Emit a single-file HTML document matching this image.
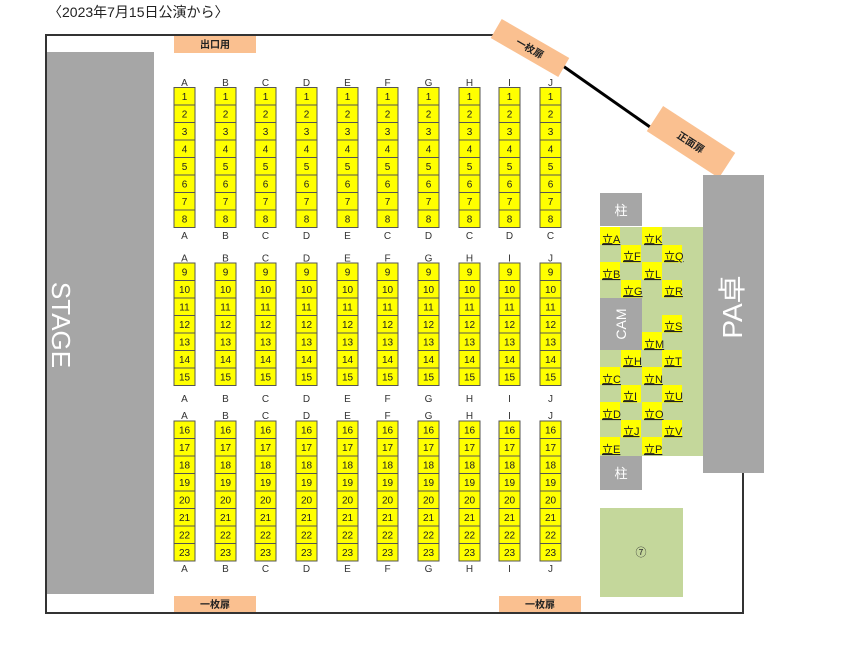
<!DOCTYPE html>
<html><head><meta charset="utf-8"><style>
html,body{margin:0;padding:0;background:#fff;}
svg{display:block;font-family:"Liberation Sans","Noto Sans CJK JP",sans-serif;}
rect.s{fill:#ffff00;stroke:#555;stroke-width:1;width:21px;height:17.5px;}
.c text{font-size:10px;text-anchor:middle;fill:#222;}
.c text.l{fill:#333;}
.st rect{fill:#ffff00;width:20px;height:17.5px;}
.st text{font-size:11px;fill:#222;text-decoration:underline;}
.w{fill:#fff;text-anchor:middle;}
.dr text{font-size:10px;font-weight:bold;text-anchor:middle;fill:#222;}
</style></head><body>
<svg width="844" height="650" viewBox="0 0 844 650" xmlns="http://www.w3.org/2000/svg">
<defs>
<g id="none"></g>
</defs>
<text x="48" y="17" font-size="14" fill="#222">〈2023年7月15日公演から〉</text>
<!-- walls -->
<polyline points="495,35 46,35 46,613 743,613 743,470" fill="none" stroke="#333" stroke-width="2"/>
<line x1="563" y1="66" x2="650" y2="127" stroke="#000" stroke-width="3"/>
<!-- stage -->
<rect x="47" y="52" width="107" height="542" fill="#a6a6a6"/>
<text transform="translate(52,325) rotate(90)" class="w" font-size="26">STAGE</text>
<!-- doors -->
<g class="dr">
<rect x="174" y="36" width="82" height="17" fill="#fac090"/><text x="215" y="48">出口用</text>
<rect x="174" y="596" width="82" height="16" fill="#fac090"/><text x="215" y="608">一枚扉</text>
<rect x="499" y="596" width="82" height="16" fill="#fac090"/><text x="540" y="608">一枚扉</text>
<g transform="translate(530,48) rotate(30)"><rect x="-39" y="-11" width="78" height="22" fill="#fac090"/><text x="0" y="4">一枚扉</text></g>
<g transform="translate(691,142) rotate(33)"><rect x="-43" y="-15" width="86" height="30" fill="#fac090"/><text x="0" y="4">正面扉</text></g>
</g>
<!-- PA -->
<rect x="703" y="175" width="61" height="298" fill="#a6a6a6"/>
<text transform="translate(742,307) rotate(-90)" class="w" font-size="28">PA卓</text>
<!-- standing area -->
<rect x="600" y="227" width="103" height="229" fill="#c4d79b"/>
<rect x="600" y="193" width="42" height="33" fill="#a6a6a6"/><text x="621" y="215" class="w" font-size="13">柱</text>
<rect x="600" y="456" width="42" height="34" fill="#a6a6a6"/><text x="621" y="478" class="w" font-size="13">柱</text>
<rect x="600" y="298" width="42" height="52" fill="#a6a6a6"/>
<text transform="translate(626,324) rotate(-90)" class="w" font-size="14">CAM</text>
<rect x="600" y="508" width="83" height="89" fill="#c4d79b"/>
<text x="641" y="556" font-size="11" text-anchor="middle" fill="#333">⑦</text>
<g class="st">
<rect x="600" y="227"/><text x="602" y="243">立A</text>
<rect x="642" y="227"/><text x="644" y="243">立K</text>
<rect x="621" y="245"/><text x="623" y="260">立F</text>
<rect x="662" y="245"/><text x="664" y="260">立Q</text>
<rect x="600" y="262"/><text x="602" y="278">立B</text>
<rect x="642" y="262"/><text x="644" y="278">立L</text>
<rect x="621" y="280"/><text x="623" y="295">立G</text>
<rect x="662" y="280"/><text x="664" y="295">立R</text>
<rect x="662" y="315"/><text x="664" y="330">立S</text>
<rect x="642" y="332"/><text x="644" y="348">立M</text>
<rect x="621" y="350"/><text x="623" y="365">立H</text>
<rect x="662" y="350"/><text x="664" y="365">立T</text>
<rect x="600" y="367"/><text x="602" y="383">立C</text>
<rect x="642" y="367"/><text x="644" y="383">立N</text>
<rect x="621" y="385"/><text x="623" y="400">立I</text>
<rect x="662" y="385"/><text x="664" y="400">立U</text>
<rect x="600" y="402"/><text x="602" y="418">立D</text>
<rect x="642" y="402"/><text x="644" y="418">立O</text>
<rect x="621" y="420"/><text x="623" y="435">立J</text>
<rect x="662" y="420"/><text x="664" y="435">立V</text>
<rect x="600" y="437"/><text x="602" y="453">立E</text>
<rect x="642" y="437"/><text x="644" y="453">立P</text>
</g>
<!-- seat columns -->
<g class="c" transform="translate(174,0)">
<text class="l" x="10.5" y="86">A</text><text class="l" x="10.5" y="239">A</text><text class="l" x="10.5" y="261.5">A</text><text class="l" x="10.5" y="402">A</text><text class="l" x="10.5" y="419">A</text><text class="l" x="10.5" y="572">A</text>
<rect class="s" y="87.5"/><rect class="s" y="105"/><rect class="s" y="122.5"/><rect class="s" y="140"/><rect class="s" y="157.5"/><rect class="s" y="175"/><rect class="s" y="192.5"/><rect class="s" y="210"/>
<rect class="s" y="263"/><rect class="s" y="280.5"/><rect class="s" y="298"/><rect class="s" y="315.5"/><rect class="s" y="333"/><rect class="s" y="350.5"/><rect class="s" y="368"/>
<rect class="s" y="421"/><rect class="s" y="438.5"/><rect class="s" y="456"/><rect class="s" y="473.5"/><rect class="s" y="491"/><rect class="s" y="508.5"/><rect class="s" y="526"/><rect class="s" y="543.5"/>
<text x="10.5" y="100">1</text><text x="10.5" y="117.5">2</text><text x="10.5" y="135">3</text><text x="10.5" y="152.5">4</text><text x="10.5" y="170">5</text><text x="10.5" y="187.5">6</text><text x="10.5" y="205">7</text><text x="10.5" y="222.5">8</text>
<text x="10.5" y="275.5">9</text><text x="10.5" y="293">10</text><text x="10.5" y="310.5">11</text><text x="10.5" y="328">12</text><text x="10.5" y="345.5">13</text><text x="10.5" y="363">14</text><text x="10.5" y="380.5">15</text>
<text x="10.5" y="433.5">16</text><text x="10.5" y="451">17</text><text x="10.5" y="468.5">18</text><text x="10.5" y="486">19</text><text x="10.5" y="503.5">20</text><text x="10.5" y="521">21</text><text x="10.5" y="538.5">22</text><text x="10.5" y="556">23</text>
</g>
<g class="c" transform="translate(215,0)">
<text class="l" x="10.5" y="86">B</text><text class="l" x="10.5" y="239">B</text><text class="l" x="10.5" y="261.5">B</text><text class="l" x="10.5" y="402">B</text><text class="l" x="10.5" y="419">B</text><text class="l" x="10.5" y="572">B</text>
<rect class="s" y="87.5"/><rect class="s" y="105"/><rect class="s" y="122.5"/><rect class="s" y="140"/><rect class="s" y="157.5"/><rect class="s" y="175"/><rect class="s" y="192.5"/><rect class="s" y="210"/>
<rect class="s" y="263"/><rect class="s" y="280.5"/><rect class="s" y="298"/><rect class="s" y="315.5"/><rect class="s" y="333"/><rect class="s" y="350.5"/><rect class="s" y="368"/>
<rect class="s" y="421"/><rect class="s" y="438.5"/><rect class="s" y="456"/><rect class="s" y="473.5"/><rect class="s" y="491"/><rect class="s" y="508.5"/><rect class="s" y="526"/><rect class="s" y="543.5"/>
<text x="10.5" y="100">1</text><text x="10.5" y="117.5">2</text><text x="10.5" y="135">3</text><text x="10.5" y="152.5">4</text><text x="10.5" y="170">5</text><text x="10.5" y="187.5">6</text><text x="10.5" y="205">7</text><text x="10.5" y="222.5">8</text>
<text x="10.5" y="275.5">9</text><text x="10.5" y="293">10</text><text x="10.5" y="310.5">11</text><text x="10.5" y="328">12</text><text x="10.5" y="345.5">13</text><text x="10.5" y="363">14</text><text x="10.5" y="380.5">15</text>
<text x="10.5" y="433.5">16</text><text x="10.5" y="451">17</text><text x="10.5" y="468.5">18</text><text x="10.5" y="486">19</text><text x="10.5" y="503.5">20</text><text x="10.5" y="521">21</text><text x="10.5" y="538.5">22</text><text x="10.5" y="556">23</text>
</g>
<g class="c" transform="translate(255,0)">
<text class="l" x="10.5" y="86">C</text><text class="l" x="10.5" y="239">C</text><text class="l" x="10.5" y="261.5">C</text><text class="l" x="10.5" y="402">C</text><text class="l" x="10.5" y="419">C</text><text class="l" x="10.5" y="572">C</text>
<rect class="s" y="87.5"/><rect class="s" y="105"/><rect class="s" y="122.5"/><rect class="s" y="140"/><rect class="s" y="157.5"/><rect class="s" y="175"/><rect class="s" y="192.5"/><rect class="s" y="210"/>
<rect class="s" y="263"/><rect class="s" y="280.5"/><rect class="s" y="298"/><rect class="s" y="315.5"/><rect class="s" y="333"/><rect class="s" y="350.5"/><rect class="s" y="368"/>
<rect class="s" y="421"/><rect class="s" y="438.5"/><rect class="s" y="456"/><rect class="s" y="473.5"/><rect class="s" y="491"/><rect class="s" y="508.5"/><rect class="s" y="526"/><rect class="s" y="543.5"/>
<text x="10.5" y="100">1</text><text x="10.5" y="117.5">2</text><text x="10.5" y="135">3</text><text x="10.5" y="152.5">4</text><text x="10.5" y="170">5</text><text x="10.5" y="187.5">6</text><text x="10.5" y="205">7</text><text x="10.5" y="222.5">8</text>
<text x="10.5" y="275.5">9</text><text x="10.5" y="293">10</text><text x="10.5" y="310.5">11</text><text x="10.5" y="328">12</text><text x="10.5" y="345.5">13</text><text x="10.5" y="363">14</text><text x="10.5" y="380.5">15</text>
<text x="10.5" y="433.5">16</text><text x="10.5" y="451">17</text><text x="10.5" y="468.5">18</text><text x="10.5" y="486">19</text><text x="10.5" y="503.5">20</text><text x="10.5" y="521">21</text><text x="10.5" y="538.5">22</text><text x="10.5" y="556">23</text>
</g>
<g class="c" transform="translate(296,0)">
<text class="l" x="10.5" y="86">D</text><text class="l" x="10.5" y="239">D</text><text class="l" x="10.5" y="261.5">D</text><text class="l" x="10.5" y="402">D</text><text class="l" x="10.5" y="419">D</text><text class="l" x="10.5" y="572">D</text>
<rect class="s" y="87.5"/><rect class="s" y="105"/><rect class="s" y="122.5"/><rect class="s" y="140"/><rect class="s" y="157.5"/><rect class="s" y="175"/><rect class="s" y="192.5"/><rect class="s" y="210"/>
<rect class="s" y="263"/><rect class="s" y="280.5"/><rect class="s" y="298"/><rect class="s" y="315.5"/><rect class="s" y="333"/><rect class="s" y="350.5"/><rect class="s" y="368"/>
<rect class="s" y="421"/><rect class="s" y="438.5"/><rect class="s" y="456"/><rect class="s" y="473.5"/><rect class="s" y="491"/><rect class="s" y="508.5"/><rect class="s" y="526"/><rect class="s" y="543.5"/>
<text x="10.5" y="100">1</text><text x="10.5" y="117.5">2</text><text x="10.5" y="135">3</text><text x="10.5" y="152.5">4</text><text x="10.5" y="170">5</text><text x="10.5" y="187.5">6</text><text x="10.5" y="205">7</text><text x="10.5" y="222.5">8</text>
<text x="10.5" y="275.5">9</text><text x="10.5" y="293">10</text><text x="10.5" y="310.5">11</text><text x="10.5" y="328">12</text><text x="10.5" y="345.5">13</text><text x="10.5" y="363">14</text><text x="10.5" y="380.5">15</text>
<text x="10.5" y="433.5">16</text><text x="10.5" y="451">17</text><text x="10.5" y="468.5">18</text><text x="10.5" y="486">19</text><text x="10.5" y="503.5">20</text><text x="10.5" y="521">21</text><text x="10.5" y="538.5">22</text><text x="10.5" y="556">23</text>
</g>
<g class="c" transform="translate(337,0)">
<text class="l" x="10.5" y="86">E</text><text class="l" x="10.5" y="239">E</text><text class="l" x="10.5" y="261.5">E</text><text class="l" x="10.5" y="402">E</text><text class="l" x="10.5" y="419">E</text><text class="l" x="10.5" y="572">E</text>
<rect class="s" y="87.5"/><rect class="s" y="105"/><rect class="s" y="122.5"/><rect class="s" y="140"/><rect class="s" y="157.5"/><rect class="s" y="175"/><rect class="s" y="192.5"/><rect class="s" y="210"/>
<rect class="s" y="263"/><rect class="s" y="280.5"/><rect class="s" y="298"/><rect class="s" y="315.5"/><rect class="s" y="333"/><rect class="s" y="350.5"/><rect class="s" y="368"/>
<rect class="s" y="421"/><rect class="s" y="438.5"/><rect class="s" y="456"/><rect class="s" y="473.5"/><rect class="s" y="491"/><rect class="s" y="508.5"/><rect class="s" y="526"/><rect class="s" y="543.5"/>
<text x="10.5" y="100">1</text><text x="10.5" y="117.5">2</text><text x="10.5" y="135">3</text><text x="10.5" y="152.5">4</text><text x="10.5" y="170">5</text><text x="10.5" y="187.5">6</text><text x="10.5" y="205">7</text><text x="10.5" y="222.5">8</text>
<text x="10.5" y="275.5">9</text><text x="10.5" y="293">10</text><text x="10.5" y="310.5">11</text><text x="10.5" y="328">12</text><text x="10.5" y="345.5">13</text><text x="10.5" y="363">14</text><text x="10.5" y="380.5">15</text>
<text x="10.5" y="433.5">16</text><text x="10.5" y="451">17</text><text x="10.5" y="468.5">18</text><text x="10.5" y="486">19</text><text x="10.5" y="503.5">20</text><text x="10.5" y="521">21</text><text x="10.5" y="538.5">22</text><text x="10.5" y="556">23</text>
</g>
<g class="c" transform="translate(377,0)">
<text class="l" x="10.5" y="86">F</text><text class="l" x="10.5" y="239">C</text><text class="l" x="10.5" y="261.5">F</text><text class="l" x="10.5" y="402">F</text><text class="l" x="10.5" y="419">F</text><text class="l" x="10.5" y="572">F</text>
<rect class="s" y="87.5"/><rect class="s" y="105"/><rect class="s" y="122.5"/><rect class="s" y="140"/><rect class="s" y="157.5"/><rect class="s" y="175"/><rect class="s" y="192.5"/><rect class="s" y="210"/>
<rect class="s" y="263"/><rect class="s" y="280.5"/><rect class="s" y="298"/><rect class="s" y="315.5"/><rect class="s" y="333"/><rect class="s" y="350.5"/><rect class="s" y="368"/>
<rect class="s" y="421"/><rect class="s" y="438.5"/><rect class="s" y="456"/><rect class="s" y="473.5"/><rect class="s" y="491"/><rect class="s" y="508.5"/><rect class="s" y="526"/><rect class="s" y="543.5"/>
<text x="10.5" y="100">1</text><text x="10.5" y="117.5">2</text><text x="10.5" y="135">3</text><text x="10.5" y="152.5">4</text><text x="10.5" y="170">5</text><text x="10.5" y="187.5">6</text><text x="10.5" y="205">7</text><text x="10.5" y="222.5">8</text>
<text x="10.5" y="275.5">9</text><text x="10.5" y="293">10</text><text x="10.5" y="310.5">11</text><text x="10.5" y="328">12</text><text x="10.5" y="345.5">13</text><text x="10.5" y="363">14</text><text x="10.5" y="380.5">15</text>
<text x="10.5" y="433.5">16</text><text x="10.5" y="451">17</text><text x="10.5" y="468.5">18</text><text x="10.5" y="486">19</text><text x="10.5" y="503.5">20</text><text x="10.5" y="521">21</text><text x="10.5" y="538.5">22</text><text x="10.5" y="556">23</text>
</g>
<g class="c" transform="translate(418,0)">
<text class="l" x="10.5" y="86">G</text><text class="l" x="10.5" y="239">D</text><text class="l" x="10.5" y="261.5">G</text><text class="l" x="10.5" y="402">G</text><text class="l" x="10.5" y="419">G</text><text class="l" x="10.5" y="572">G</text>
<rect class="s" y="87.5"/><rect class="s" y="105"/><rect class="s" y="122.5"/><rect class="s" y="140"/><rect class="s" y="157.5"/><rect class="s" y="175"/><rect class="s" y="192.5"/><rect class="s" y="210"/>
<rect class="s" y="263"/><rect class="s" y="280.5"/><rect class="s" y="298"/><rect class="s" y="315.5"/><rect class="s" y="333"/><rect class="s" y="350.5"/><rect class="s" y="368"/>
<rect class="s" y="421"/><rect class="s" y="438.5"/><rect class="s" y="456"/><rect class="s" y="473.5"/><rect class="s" y="491"/><rect class="s" y="508.5"/><rect class="s" y="526"/><rect class="s" y="543.5"/>
<text x="10.5" y="100">1</text><text x="10.5" y="117.5">2</text><text x="10.5" y="135">3</text><text x="10.5" y="152.5">4</text><text x="10.5" y="170">5</text><text x="10.5" y="187.5">6</text><text x="10.5" y="205">7</text><text x="10.5" y="222.5">8</text>
<text x="10.5" y="275.5">9</text><text x="10.5" y="293">10</text><text x="10.5" y="310.5">11</text><text x="10.5" y="328">12</text><text x="10.5" y="345.5">13</text><text x="10.5" y="363">14</text><text x="10.5" y="380.5">15</text>
<text x="10.5" y="433.5">16</text><text x="10.5" y="451">17</text><text x="10.5" y="468.5">18</text><text x="10.5" y="486">19</text><text x="10.5" y="503.5">20</text><text x="10.5" y="521">21</text><text x="10.5" y="538.5">22</text><text x="10.5" y="556">23</text>
</g>
<g class="c" transform="translate(459,0)">
<text class="l" x="10.5" y="86">H</text><text class="l" x="10.5" y="239">C</text><text class="l" x="10.5" y="261.5">H</text><text class="l" x="10.5" y="402">H</text><text class="l" x="10.5" y="419">H</text><text class="l" x="10.5" y="572">H</text>
<rect class="s" y="87.5"/><rect class="s" y="105"/><rect class="s" y="122.5"/><rect class="s" y="140"/><rect class="s" y="157.5"/><rect class="s" y="175"/><rect class="s" y="192.5"/><rect class="s" y="210"/>
<rect class="s" y="263"/><rect class="s" y="280.5"/><rect class="s" y="298"/><rect class="s" y="315.5"/><rect class="s" y="333"/><rect class="s" y="350.5"/><rect class="s" y="368"/>
<rect class="s" y="421"/><rect class="s" y="438.5"/><rect class="s" y="456"/><rect class="s" y="473.5"/><rect class="s" y="491"/><rect class="s" y="508.5"/><rect class="s" y="526"/><rect class="s" y="543.5"/>
<text x="10.5" y="100">1</text><text x="10.5" y="117.5">2</text><text x="10.5" y="135">3</text><text x="10.5" y="152.5">4</text><text x="10.5" y="170">5</text><text x="10.5" y="187.5">6</text><text x="10.5" y="205">7</text><text x="10.5" y="222.5">8</text>
<text x="10.5" y="275.5">9</text><text x="10.5" y="293">10</text><text x="10.5" y="310.5">11</text><text x="10.5" y="328">12</text><text x="10.5" y="345.5">13</text><text x="10.5" y="363">14</text><text x="10.5" y="380.5">15</text>
<text x="10.5" y="433.5">16</text><text x="10.5" y="451">17</text><text x="10.5" y="468.5">18</text><text x="10.5" y="486">19</text><text x="10.5" y="503.5">20</text><text x="10.5" y="521">21</text><text x="10.5" y="538.5">22</text><text x="10.5" y="556">23</text>
</g>
<g class="c" transform="translate(499,0)">
<text class="l" x="10.5" y="86">I</text><text class="l" x="10.5" y="239">D</text><text class="l" x="10.5" y="261.5">I</text><text class="l" x="10.5" y="402">I</text><text class="l" x="10.5" y="419">I</text><text class="l" x="10.5" y="572">I</text>
<rect class="s" y="87.5"/><rect class="s" y="105"/><rect class="s" y="122.5"/><rect class="s" y="140"/><rect class="s" y="157.5"/><rect class="s" y="175"/><rect class="s" y="192.5"/><rect class="s" y="210"/>
<rect class="s" y="263"/><rect class="s" y="280.5"/><rect class="s" y="298"/><rect class="s" y="315.5"/><rect class="s" y="333"/><rect class="s" y="350.5"/><rect class="s" y="368"/>
<rect class="s" y="421"/><rect class="s" y="438.5"/><rect class="s" y="456"/><rect class="s" y="473.5"/><rect class="s" y="491"/><rect class="s" y="508.5"/><rect class="s" y="526"/><rect class="s" y="543.5"/>
<text x="10.5" y="100">1</text><text x="10.5" y="117.5">2</text><text x="10.5" y="135">3</text><text x="10.5" y="152.5">4</text><text x="10.5" y="170">5</text><text x="10.5" y="187.5">6</text><text x="10.5" y="205">7</text><text x="10.5" y="222.5">8</text>
<text x="10.5" y="275.5">9</text><text x="10.5" y="293">10</text><text x="10.5" y="310.5">11</text><text x="10.5" y="328">12</text><text x="10.5" y="345.5">13</text><text x="10.5" y="363">14</text><text x="10.5" y="380.5">15</text>
<text x="10.5" y="433.5">16</text><text x="10.5" y="451">17</text><text x="10.5" y="468.5">18</text><text x="10.5" y="486">19</text><text x="10.5" y="503.5">20</text><text x="10.5" y="521">21</text><text x="10.5" y="538.5">22</text><text x="10.5" y="556">23</text>
</g>
<g class="c" transform="translate(540,0)">
<text class="l" x="10.5" y="86">J</text><text class="l" x="10.5" y="239">C</text><text class="l" x="10.5" y="261.5">J</text><text class="l" x="10.5" y="402">J</text><text class="l" x="10.5" y="419">J</text><text class="l" x="10.5" y="572">J</text>
<rect class="s" y="87.5"/><rect class="s" y="105"/><rect class="s" y="122.5"/><rect class="s" y="140"/><rect class="s" y="157.5"/><rect class="s" y="175"/><rect class="s" y="192.5"/><rect class="s" y="210"/>
<rect class="s" y="263"/><rect class="s" y="280.5"/><rect class="s" y="298"/><rect class="s" y="315.5"/><rect class="s" y="333"/><rect class="s" y="350.5"/><rect class="s" y="368"/>
<rect class="s" y="421"/><rect class="s" y="438.5"/><rect class="s" y="456"/><rect class="s" y="473.5"/><rect class="s" y="491"/><rect class="s" y="508.5"/><rect class="s" y="526"/><rect class="s" y="543.5"/>
<text x="10.5" y="100">1</text><text x="10.5" y="117.5">2</text><text x="10.5" y="135">3</text><text x="10.5" y="152.5">4</text><text x="10.5" y="170">5</text><text x="10.5" y="187.5">6</text><text x="10.5" y="205">7</text><text x="10.5" y="222.5">8</text>
<text x="10.5" y="275.5">9</text><text x="10.5" y="293">10</text><text x="10.5" y="310.5">11</text><text x="10.5" y="328">12</text><text x="10.5" y="345.5">13</text><text x="10.5" y="363">14</text><text x="10.5" y="380.5">15</text>
<text x="10.5" y="433.5">16</text><text x="10.5" y="451">17</text><text x="10.5" y="468.5">18</text><text x="10.5" y="486">19</text><text x="10.5" y="503.5">20</text><text x="10.5" y="521">21</text><text x="10.5" y="538.5">22</text><text x="10.5" y="556">23</text>
</g>
</svg>
</body></html>
